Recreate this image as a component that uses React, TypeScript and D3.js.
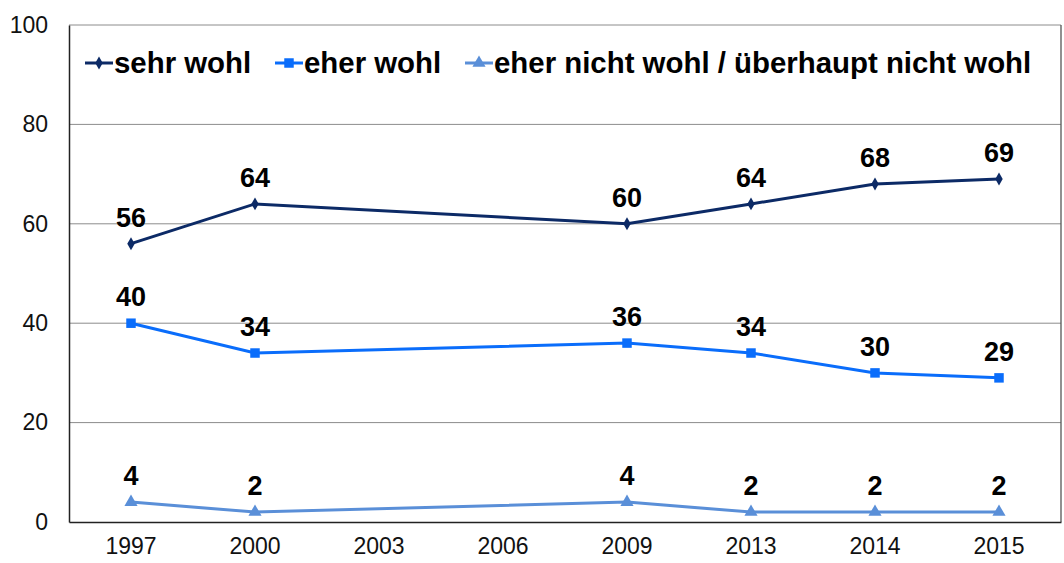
import React, { useRef, useEffect } from "react"
import * as d3 from "d3"

const years = ["1997", "2000", "2003", "2006", "2009", "2013", "2014", "2015"]
const yTicks = [0, 20, 40, 60, 80, 100]

// null = no survey that year, line runs across the gap
const sehrWohl = [56, 64, null, null, 60, 64, 68, 69]
const eherWohl = [40, 34, null, null, 36, 34, 30, 29]
const eherNicht = [4, 2, null, null, 4, 2, 2, 2]

const seriesNames = ["sehr wohl", "eher wohl", "eher nicht wohl / überhaupt nicht wohl"]
const seriesColors = ["#0c2a66", "#0a6dfb", "#5a8fd8"]
const seriesMarkers = ["diamond", "square", "triangle"]

const W = 1064
const H = 563
const margin = { top: 25, right: 3, bottom: 41, left: 69 }
const font = "Liberation Sans, Arial, sans-serif"

function drawMarker(g, kind, x, y, color) {
  const type =
    kind === "diamond" ? d3.symbolDiamond : kind === "square" ? d3.symbolSquare : d3.symbolTriangle
  const size = kind === "diamond" ? 48 : kind === "square" ? 90 : 75
  g.append("path")
    .attr("d", d3.symbol().type(type).size(size)())
    .attr("transform", `translate(${x},${y})`)
    .attr("fill", color)
}

function App() {
  const ref = useRef()

  useEffect(() => {
    const svg = d3.select(ref.current)
    svg.selectAll("*").remove()

    const width = W - margin.left - margin.right
    const height = H - margin.top - margin.bottom

    const x = d3.scaleBand().domain(years).range([margin.left, margin.left + width])
    const y = d3.scaleLinear().domain([0, 100]).range([margin.top + height, margin.top])

    // gridlines
    svg.append("g")
      .selectAll("line")
      .data(yTicks.filter(d => d > 0))
      .join("line")
      .attr("x1", margin.left)
      .attr("x2", margin.left + width)
      .attr("y1", d => y(d))
      .attr("y2", d => y(d))
      .attr("stroke", "#8c8c8c")
      .attr("stroke-width", 1)

    // right frame
    svg.append("line")
      .attr("x1", margin.left + width)
      .attr("x2", margin.left + width)
      .attr("y1", y(100))
      .attr("y2", y(0))
      .attr("stroke", "#555")
      .attr("stroke-width", 1.3)

    // y axis
    const yAxis = svg.append("g")
      .attr("transform", `translate(${margin.left},0)`)
      .call(d3.axisLeft(y).tickValues(yTicks).tickSize(0).tickPadding(21))
    yAxis.select(".domain").attr("stroke", "#222").attr("stroke-width", 1.5)
    yAxis.selectAll("text")
      .attr("font-family", font)
      .attr("font-size", 23)
      .attr("fill", "#111")

    // x axis
    const xAxis = svg.append("g")
      .attr("transform", `translate(0,${y(0)})`)
      .call(d3.axisBottom(x).tickSize(0).tickPadding(16))
    xAxis.select(".domain").attr("stroke", "#222").attr("stroke-width", 1.5)
    xAxis.selectAll("text")
      .attr("font-family", font)
      .attr("font-size", 23)
      .attr("fill", "#111")

    const allSeries = [sehrWohl, eherWohl, eherNicht]
    allSeries.forEach((vals, i) => {
      const pts = years
        .map((yr, j) => ({ yr, v: vals[j] }))
        .filter(p => p.v != null)
      const cx = p => x(p.yr) + x.bandwidth() / 2
      const line = d3.line().x(cx).y(p => y(p.v))
      const g = svg.append("g")
      g.append("path")
        .attr("d", line(pts))
        .attr("fill", "none")
        .attr("stroke", seriesColors[i])
        .attr("stroke-width", 3)
      pts.forEach(p => {
        drawMarker(g, seriesMarkers[i], cx(p), y(p.v), seriesColors[i])
        g.append("text")
          .attr("x", cx(p))
          .attr("y", y(p.v) - 17)
          .attr("text-anchor", "middle")
          .attr("font-family", font)
          .attr("font-weight", "bold")
          .attr("font-size", 27)
          .attr("fill", "#000")
          .text(p.v)
      })
    })

    // legend
    const legendX = [85, 275, 465]
    const lg = svg.append("g")
    seriesNames.forEach((name, i) => {
      const lx = legendX[i]
      const ly = 63
      lg.append("line")
        .attr("x1", lx)
        .attr("x2", lx + 28)
        .attr("y1", ly)
        .attr("y2", ly)
        .attr("stroke", seriesColors[i])
        .attr("stroke-width", 3)
      drawMarker(lg, seriesMarkers[i], lx + 14, ly, seriesColors[i])
      lg.append("text")
        .attr("x", lx + 29)
        .attr("y", ly + 10)
        .attr("font-family", font)
        .attr("font-weight", "bold")
        .attr("font-size", 29.4)
        .attr("fill", "#000")
        .text(name)
    })
  }, [])

  return (
    <svg
      ref={ref}
      width={W}
      height={H}
      style={{ position: "absolute", left: 0, top: 0, background: "#fff" }}
    ></svg>
  )
}

export default App
